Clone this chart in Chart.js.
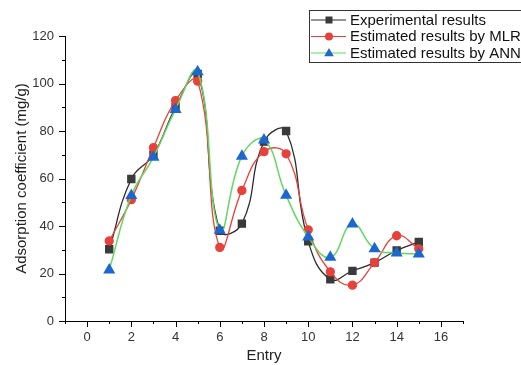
<!DOCTYPE html>
<html>
<head>
<meta charset="utf-8">
<script src="https://cdn.jsdelivr.net/npm/chart.js@4/dist/chart.umd.min.js"></script>
<style>
html,body{margin:0;padding:0;background:#fff;}
#wrap{width:521px;height:365px;position:relative;}
</style>
</head>
<body>
<div id="wrap"><canvas id="c" width="521" height="365"></canvas></div>
<script>
const entries = [1,2,3,4,5,6,7,8,9,10,11,12,13,14,15];
const experimental = [30.2,59.8,70,90,104,38,41,75.5,80,33.5,17.6,21.1,24.6,29.7,33.3];
const mlr = [33.7,51.1,73,92.8,101,31,55,71.3,70.4,38.4,20.7,15.1,24.6,35.9,30.4];
const ann = [21.5,52.8,69,89.1,104.9,38.2,69.4,76.2,52.9,35.4,26.8,40.8,30.4,28.6,28.2];
const xTicks = [0,2,4,6,8,10,12,14,16];
const yTicks = [0,20,40,60,80,100,120];
const seriesNames = ['Experimental results','Estimated results by MLR','Estimated results by ANN'];

const COLORS = {
  exp: {line:'#2b2b2b', point:'#3a3a3a'},
  mlr: {line:'#e8413c', point:'#e8413c'},
  ann: {line:'#62d862', point:'#1c68cf'}
};

function toXY(arr){ return entries.map((x,i)=>({x:x,y:arr[i]})); }

const minorTicks = {
  id:'minorTicks',
  afterDraw(chart){
    const ctx = chart.ctx;
    const xs = chart.scales.x, ys = chart.scales.y;
    ctx.save();
    ctx.strokeStyle = '#000';
    ctx.lineWidth = 1;
    ctx.beginPath();
    for(let v=-1; v<=17; v++){
      const px = Math.round(xs.getPixelForValue(v))+0.5;
      const len = (v%2===0) ? 6 : 3;
      ctx.moveTo(px, ys.bottom);
      ctx.lineTo(px, ys.bottom+len);
    }
    for(let v=0; v<=120; v+=10){
      const py = Math.round(ys.getPixelForValue(v))+0.5;
      const len = (v%20===0) ? 6 : 3;
      ctx.moveTo(xs.left, py);
      ctx.lineTo(xs.left-len, py);
    }
    ctx.stroke();
    ctx.restore();
  }
};

function drawMarker(ctx, style, x, y, color){
  ctx.fillStyle = color;
  ctx.beginPath();
  if(style==='rect'){ ctx.rect(x-3.5,y-3.5,7,7); }
  else if(style==='circle'){ ctx.arc(x,y,4,0,Math.PI*2); }
  else { ctx.moveTo(x,y-5); ctx.lineTo(x+4.8,y+3.2); ctx.lineTo(x-4.8,y+3.2); ctx.closePath(); }
  ctx.fill();
}

const customLegend = {
  id:'customLegend',
  afterDraw(chart){
    const ctx = chart.ctx;
    ctx.save();
    ctx.strokeStyle = '#333';
    ctx.lineWidth = 1;
    ctx.strokeRect(309.5, 10.5, 240, 52);
    const rows = [20, 36.5, 53];
    const styles = ['rect','circle','triangle'];
    const cols = [COLORS.exp, COLORS.mlr, COLORS.ann];
    ctx.font = '15px "Liberation Sans", Arial, sans-serif';
    ctx.textBaseline = 'middle';
    ctx.textAlign = 'left';
    rows.forEach((ry,i)=>{
      ctx.strokeStyle = cols[i].line;
      ctx.lineWidth = 1.2;
      ctx.beginPath();
      ctx.moveTo(311, ry); ctx.lineTo(346, ry);
      ctx.stroke();
      drawMarker(ctx, styles[i], 329, ry, cols[i].point);
      ctx.fillStyle = '#111';
      ctx.fillText(seriesNames[i], 350, ry+0.5);
    });
    ctx.restore();
  }
};

const fontFam = '"Liberation Sans", Arial, sans-serif';

new Chart(document.getElementById('c'), {
  type:'line',
  data:{
    datasets:[
      {label:seriesNames[0], data:toXY(experimental), borderColor:COLORS.exp.line, backgroundColor:COLORS.exp.point,
       pointBackgroundColor:COLORS.exp.point, pointBorderColor:COLORS.exp.point, pointStyle:'rect', pointRadius:5,
       borderWidth:1.3, tension:0.45, order:2},
      {label:seriesNames[1], data:toXY(mlr), borderColor:COLORS.mlr.line, backgroundColor:COLORS.mlr.point,
       pointBackgroundColor:COLORS.mlr.point, pointBorderColor:COLORS.mlr.point, pointStyle:'circle', pointRadius:4,
       borderWidth:1.3, tension:0.45, order:1},
      {label:seriesNames[2], data:toXY(ann), borderColor:COLORS.ann.line, backgroundColor:COLORS.ann.point,
       pointBackgroundColor:COLORS.ann.point, pointBorderColor:COLORS.ann.point, pointStyle:'triangle', pointRadius:5.5,
       borderWidth:1.5, tension:0.45, order:0}
    ]
  },
  options:{
    responsive:false,
    animation:false,
    events:[],
    layout:{padding:{left:0, top:36, right:58, bottom:0}},
    plugins:{legend:{display:false}, tooltip:{enabled:false}},
    scales:{
      x:{
        type:'linear', min:-1, max:17,
        afterBuildTicks(s){ s.ticks = xTicks.map(v=>({value:v})); },
        afterFit(s){ s.height = 44; },
        grid:{display:false, drawTicks:false},
        border:{display:true, color:'#000', width:1},
        ticks:{padding:9, color:'#333', font:{family:fontFam, size:13}, maxRotation:0, autoSkip:false},
        title:{display:true, text:'Entry', color:'#222', font:{family:fontFam, size:15}, padding:{top:0,bottom:0}}
      },
      y:{
        type:'linear', min:0, max:120,
        afterBuildTicks(s){ s.ticks = yTicks.map(v=>({value:v})); },
        afterFit(s){ s.width = 65; },
        grid:{display:false, drawTicks:false},
        border:{display:true, color:'#000', width:1},
        ticks:{padding:11, color:'#333', font:{family:fontFam, size:13}, autoSkip:false},
        title:{display:true, text:'Adsorption coefficient (mg/g)', color:'#222', font:{family:fontFam, size:15}, padding:{top:13,bottom:0}}
      }
    }
  },
  plugins:[minorTicks, customLegend]
});
</script>
</body>
</html>
